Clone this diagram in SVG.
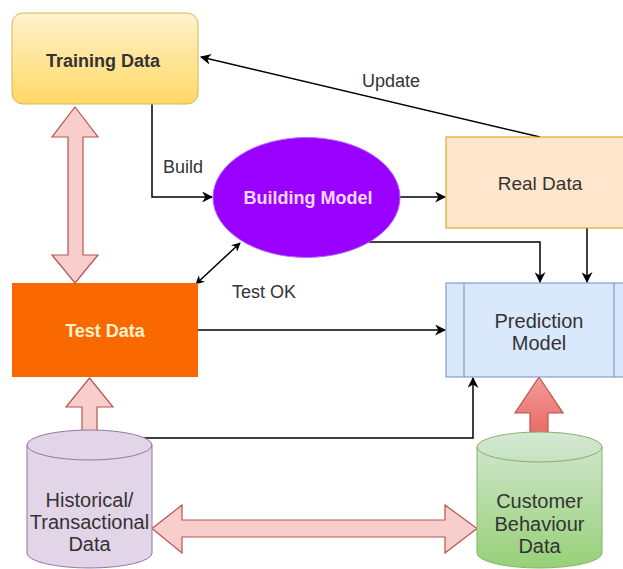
<svg xmlns="http://www.w3.org/2000/svg" width="623" height="569" viewBox="0 0 623 569">
<defs>
<linearGradient id="gYellow" x1="0" y1="0" x2="0" y2="1"><stop offset="0" stop-color="#fff2cc"/><stop offset="1" stop-color="#ffd966"/></linearGradient>
<linearGradient id="gGreen" x1="0" y1="0" x2="0" y2="1"><stop offset="0" stop-color="#d5e8d4"/><stop offset="1" stop-color="#97d077"/></linearGradient>
<linearGradient id="gRed" x1="0" y1="0" x2="0" y2="1"><stop offset="0" stop-color="#f19c99"/><stop offset="1" stop-color="#ea6b66"/></linearGradient>
<marker id="ah" viewBox="0 0 10 10" refX="9" refY="5" markerWidth="11" markerHeight="11" markerUnits="userSpaceOnUse" orient="auto-start-reverse">
<path d="M0,0 L10,5 L0,10 L3,5 Z" fill="#000"/>
</marker>
<marker id="ahs" viewBox="0 0 10 10" refX="9" refY="5" markerWidth="9" markerHeight="9" markerUnits="userSpaceOnUse" orient="auto-start-reverse">
<path d="M0,0 L10,5 L0,10 L3,5 Z" fill="#000"/>
</marker>
</defs>
<style>
text{font-family:"Liberation Sans",Arial,sans-serif;text-anchor:middle;fill:#333}
.b{font-weight:bold;font-size:18px}
.r{font-size:18px}
.c{font-size:20px}
.lbl{font-size:18px;text-anchor:start}
.edge{fill:none;stroke:#000;stroke-width:1.5}
.pink{fill:#f8cecc;stroke:#b85450;stroke-width:1.2}
</style>
<rect width="623" height="569" fill="#fff"/>

<g id="connectors">
<path class="edge" d="M540,137 L201,57" marker-end="url(#ah)"/>
<path class="edge" d="M152,104 L152,197 L212,197" marker-end="url(#ah)"/>
<path class="edge" d="M400,197 L445,197" marker-end="url(#ah)"/>
<path class="edge" d="M369,242 L540,242 L540,282" marker-end="url(#ah)"/>
<path class="edge" d="M587,228 L587,282" marker-end="url(#ah)"/>
<path class="edge" d="M198,330 L445,330" marker-end="url(#ah)"/>
<path class="edge" d="M134,438 L473,438 L473,378" marker-end="url(#ah)"/>
<path class="edge" d="M240,243 L196,284" stroke-width="1.2" marker-start="url(#ahs)" marker-end="url(#ahs)"/>
<polygon class="pink" points="75,107 98,137 83,137 83,255 98,255 75,283 52,255 68,255 68,137 52,137"/>
<polygon class="pink" points="89.5,378 113,407 97,407 97,432 82,432 82,407 66,407"/>
<polygon class="pink" points="152,528.5 182,505 182,520 445,520 445,505 477,528.5 445,553 445,537 182,537 182,553"/>
<polygon fill="url(#gRed)" stroke="#b85450" stroke-width="1.2" points="539,377 563,413 548,413 548,433 530,433 530,413 515,413"/>
<text class="lbl" x="163" y="173">Build</text>
<text class="lbl" x="362" y="87">Update</text>
<text class="lbl" x="232" y="298">Test OK</text>
</g>

<g id="training-data">
<rect x="12" y="13" width="186" height="91" rx="11" fill="url(#gYellow)" stroke="#d6b656" stroke-width="1"/>
<text class="b" x="103" y="67">Training Data</text>
</g>

<g id="test-data">
<rect x="12" y="283" width="186" height="94" fill="#fa6800"/>
<text class="b" x="105" y="337" style="fill:#fff2cc">Test Data</text>
</g>

<g id="building-model">
<ellipse cx="306.5" cy="197.5" rx="93.5" ry="60" fill="#9a00ff" stroke="#b266ff" stroke-width="1"/>
<text class="b" x="308" y="204" style="fill:#ffd9ff">Building Model</text>
</g>

<g id="real-data">
<rect x="446" y="137" width="186" height="91" fill="#ffe6cc" stroke="#d79b00" stroke-width="1"/>
<text class="r" x="540" y="190" style="font-size:19px">Real Data</text>
</g>

<g id="prediction-model">
<rect x="446" y="283" width="186" height="94" fill="#dae8fc" stroke="#6c8ebf" stroke-width="1"/>
<line x1="464" y1="283" x2="464" y2="377" stroke="#6c8ebf" stroke-width="1"/>
<line x1="614" y1="283" x2="614" y2="377" stroke="#6c8ebf" stroke-width="1"/>
<text class="c" x="539" y="328">Prediction</text>
<text class="c" x="539" y="350">Model</text>
</g>

<g id="historical-data">
<path d="M27,445 A62.5,15 0 0 1 152,445 L152,553 A62.5,15 0 0 1 27,553 Z" fill="#e1d5e7" stroke="#9673a6" stroke-width="1"/>
<path d="M27,445 A62.5,15 0 0 0 152,445" fill="none" stroke="#9673a6" stroke-width="1"/>
<text class="c" x="89.5" y="507">Historical/</text>
<text class="c" x="89.5" y="529">Transactional</text>
<text class="c" x="89.5" y="551">Data</text>
</g>

<g id="customer-data">
<path d="M477,447 A62.5,15 0 0 1 602,447 L602,553 A62.5,15 0 0 1 477,553 Z" fill="url(#gGreen)" stroke="#82b366" stroke-width="1"/>
<path d="M477,447 A62.5,15 0 0 0 602,447" fill="none" stroke="#82b366" stroke-width="1"/>
<text class="c" x="539.5" y="508">Customer</text>
<text class="c" x="539.5" y="531">Behaviour</text>
<text class="c" x="539.5" y="553">Data</text>
</g>
</svg>
